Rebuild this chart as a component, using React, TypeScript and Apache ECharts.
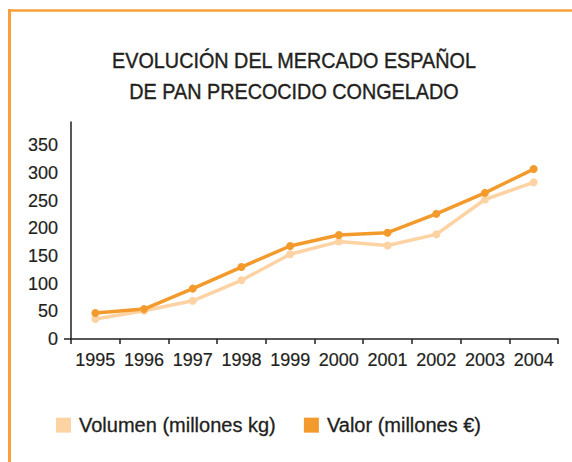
import React, { useEffect, useRef } from "react";
import * as echarts from "echarts";

const years = ["1995", "1996", "1997", "1998", "1999", "2000", "2001", "2002", "2003", "2004"];
const volumen = [36, 51, 69, 106, 153, 176, 169, 189, 252, 283];
const valor = [47, 54, 91, 130, 168, 188, 192, 226, 264, 307];
const seriesNames = ["Volumen (millones kg)", "Valor (millones €)"];
const titleLines = ["EVOLUCIÓN DEL MERCADO ESPAÑOL", "DE PAN PRECOCIDO CONGELADO"];

const DARK = "#F39A2C";
const LIGHT = "#FDD3A4";
const BORDER = "#F7A03A";
const INK = "#231F20";
const FONT = "'Liberation Sans', Arial, sans-serif";

export default function App() {
  const ref = useRef<HTMLDivElement>(null);
  useEffect(() => {
    if (!ref.current) return;
    const chart = echarts.init(ref.current, null, { renderer: "svg" });
    chart.setOption({
      animation: false,
      backgroundColor: "#ffffff",
      textStyle: { fontFamily: FONT, color: INK },
      graphic: [
        { type: "line", shape: { x1: 9.5, y1: 9, x2: 9.5, y2: 462 }, style: { stroke: BORDER, lineWidth: 3 } },
        { type: "line", shape: { x1: 8, y1: 10.5, x2: 572, y2: 10.5 }, style: { stroke: BORDER, lineWidth: 2.5 } },
        { type: "line", shape: { x1: 64, y1: 339, x2: 71, y2: 339 }, style: { stroke: INK, lineWidth: 1.5 } },
        {
          type: "text",
          x: 294,
          y: 44,
          scaleX: 0.9,
          style: {
            text: titleLines.join("\n"),
            font: `22px ${FONT}`,
            fill: INK,
            stroke: INK,
            lineWidth: 0.4,
            align: "center",
            verticalAlign: "top",
            lineHeight: 31.5,
          },
        },
      ],
      legend: {
        left: 56,
        top: 415,
        padding: 0,
        icon: "rect",
        itemWidth: 15,
        itemHeight: 15,
        itemGap: 28,
        textStyle: {
          fontSize: 20,
          color: INK,
          fontFamily: FONT,
          padding: [0, 0, 0, 3],
          textBorderColor: INK,
          textBorderWidth: 0.3,
        },
        data: seriesNames,
      },
      grid: { left: 71, right: 14, top: 122, bottom: 123 },
      xAxis: {
        type: "category",
        data: years,
        boundaryGap: true,
        axisLine: { lineStyle: { color: INK, width: 1.5 } },
        axisTick: { show: true, length: 5, interval: 0, lineStyle: { color: INK, width: 1.5 } },
        axisLabel: {
          fontSize: 18,
          color: INK,
          margin: 12,
          interval: 0,
          fontFamily: FONT,
          textBorderColor: INK,
          textBorderWidth: 0.2,
        },
      },
      yAxis: {
        type: "value",
        min: 0,
        max: 392,
        interval: 50,
        axisLine: { show: true, lineStyle: { color: INK, width: 1.5 } },
        axisTick: { show: false },
        splitLine: { show: false },
        axisLabel: {
          fontSize: 18,
          color: INK,
          margin: 13,
          fontFamily: FONT,
          textBorderColor: INK,
          textBorderWidth: 0.2,
          showMaxLabel: false,
          formatter: (v: number) => (v % 50 === 0 ? String(v) : ""),
        },
      },
      series: [
        {
          name: seriesNames[0],
          type: "line",
          data: volumen,
          symbol: "circle",
          symbolSize: 8,
          lineStyle: { color: LIGHT, width: 3.5 },
          itemStyle: { color: LIGHT },
        },
        {
          name: seriesNames[1],
          type: "line",
          data: valor,
          symbol: "circle",
          symbolSize: 8,
          lineStyle: { color: DARK, width: 3.5 },
          itemStyle: { color: DARK },
        },
      ],
    });
    return () => chart.dispose();
  }, []);
  return (
    <div
      ref={ref}
      style={{ position: "fixed", left: 0, top: 0, width: 572, height: 462 }}
    />
  );
}
